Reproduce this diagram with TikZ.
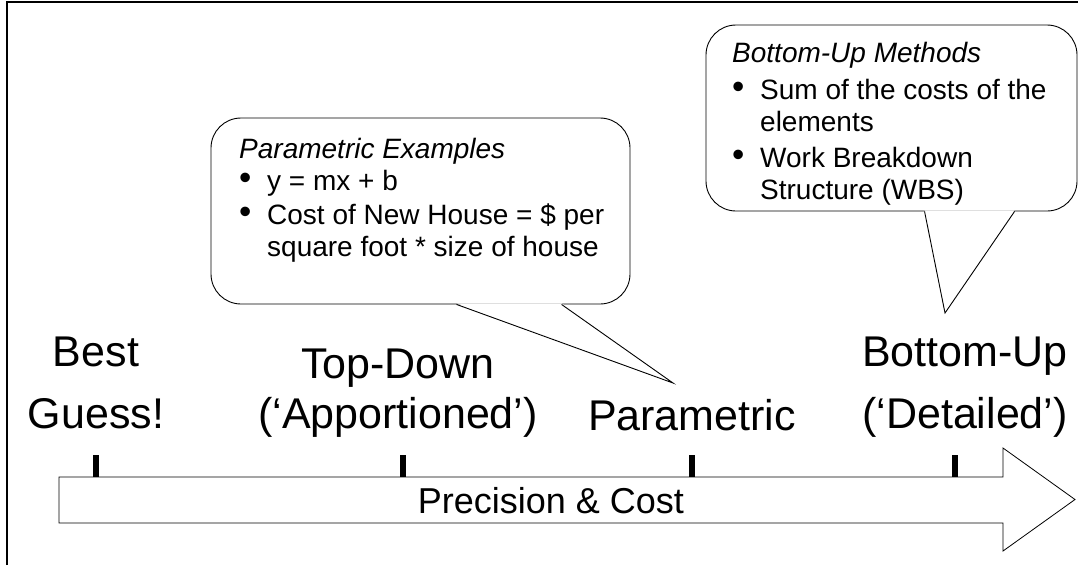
\documentclass[tikz,border=0pt]{standalone}
\usepackage{fontspec}
\setmainfont{Liberation Sans}
\usepackage{tikz}
\usetikzlibrary{positioning}

\newcommand{\bigbullet}{\makebox[28pt][l]{\raisebox{1pt}[0pt][0pt]{\fontsize{35}{32}\selectfont\textbullet}}}

\begin{document}
\begin{tikzpicture}[
    x=1pt, y=-1pt,
    callout/.style={rectangle, draw, rounded corners=30pt, line width=0.9pt, fill=white},
    bubbletext/.style={anchor=north west, inner sep=0pt, align=left, font=\fontsize{28}{32}\selectfont},
    stage/.style={anchor=north, inner sep=0pt, align=center, font=\fontsize{43}{50}\selectfont},
    stagetick/.style={line width=6pt}
]
    \useasboundingbox (0,0) rectangle (1078,565);

    % Frame
    \draw[line width=2.5pt] (7,565) -- (7,2) -- (1078,2);

    % Parametric callout
    \node[callout, minimum width=419pt, minimum height=186pt] (parbox) at (420.5,211) {};
    \coordinate (parbaseL) at ([xshift=246pt]parbox.south west);
    \coordinate (parbaseR) at ([xshift=351pt]parbox.south west);
    \coordinate (partip) at (673,383);
    \fill[white] ([yshift=1.2pt]parbaseL) -- (partip) -- ([yshift=1.2pt]parbaseR) -- cycle;
    \draw[line width=0.9pt] (parbaseL) -- (partip) -- (parbaseR);
    \node[bubbletext] (partext) at (239,138.5) {
        \textit{Parametric Examples}\\
        \bigbullet y = mx + b\\[2pt]
        \bigbullet Cost of New House = \$ per\\
        \hspace*{28pt}square foot * size of house
    };

    % Bottom-Up callout
    \node[callout, minimum width=371pt, minimum height=186pt] (botbox) at (891.5,118) {};
    \coordinate (botbaseL) at ([xshift=219pt]botbox.south west);
    \coordinate (botbaseR) at ([xshift=309pt]botbox.south west);
    \coordinate (bottip) at (945,313);
    \fill[white] ([yshift=1.2pt]botbaseL) -- (bottip) -- ([yshift=1.2pt]botbaseR) -- cycle;
    \draw[line width=0.9pt] (botbaseL) -- (bottip) -- (botbaseR);
    \node[bubbletext] (bottext) at (732,42.5) {
        \textit{Bottom-Up Methods}\\[5pt]
        \bigbullet Sum of the costs of the\\
        \hspace*{28pt}elements\\[4pt]
        \bigbullet Work Breakdown\\
        \hspace*{28pt}Structure (WBS)
    };

    % Estimate types
    \node[stage] (best) at (96,337) {Best\\[12pt]Guess!};
    \node[stage] (topdown) at (398,349) {Top-Down\\(`Apportioned')};
    \node[stage, anchor=base] (param) at (692,430) {Parametric};
    \node[stage] (bottomup) at (965,337) {Bottom-Up\\[12pt](`Detailed')};

    % Arrow
    \draw[line width=0.8pt, fill=white] (59,477) -- (1003,477) -- (1003,448) -- (1075,499.5)
        -- (1003,551) -- (1003,523) -- (59,523) -- cycle;
    \node[anchor=base, inner sep=0pt, font=\fontsize{36}{40}\selectfont] (prec) at (551,513) {Precision \& Cost};

    % Ticks
    \foreach \x in {96,403,692,955}
        \draw[stagetick] (\x,455) -- (\x,477);
\end{tikzpicture}
\end{document}
